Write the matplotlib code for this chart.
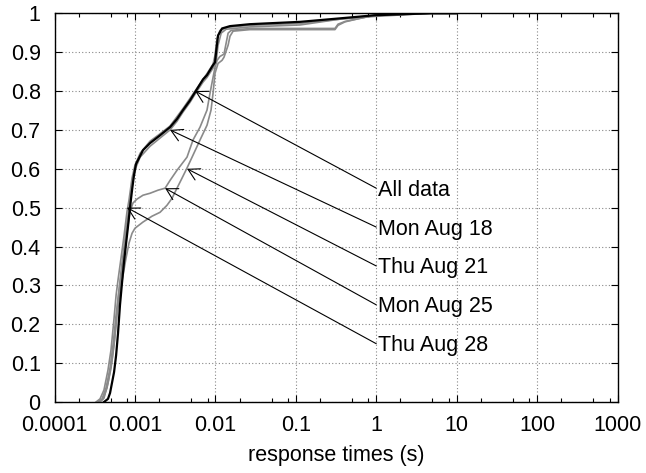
import numpy as np
import matplotlib
matplotlib.use("Agg")
import matplotlib.pyplot as plt
from matplotlib.ticker import LogLocator, FixedLocator, FixedFormatter, NullFormatter
from matplotlib.transforms import ScaledTranslation

plt.rcParams['font.family'] = ['Liberation Sans', 'DejaVu Sans']

# response time CDFs (x in seconds, y = fraction)
all_x = [0.000412, 0.000462, 0.00049, 0.00055, 0.000583, 0.000616, 0.000652, 0.00069, 0.000731, 0.000774,
         0.00082, 0.000868, 0.00092, 0.000973, 0.00103, 0.00126, 0.00154, 0.00205, 0.00273, 0.00333,
         0.00396, 0.00484, 0.00559, 0.00702, 0.00787, 0.0093, 0.0099, 0.0102, 0.0108, 0.0121,
         0.0152, 0.0269, 0.113, 0.355, 0.966, 4.67, 10]
all_y = [0, 0.008, 0.023, 0.077, 0.12, 0.177, 0.25, 0.306, 0.36, 0.406,
         0.452, 0.50, 0.545, 0.584, 0.612, 0.648, 0.666, 0.686, 0.707, 0.728,
         0.751, 0.776, 0.797, 0.83, 0.841, 0.866, 0.874, 0.90, 0.943, 0.961,
         0.967, 0.972, 0.978, 0.987, 0.995, 1.0, 1.0]

aug18_x = [0.000368, 0.000412, 0.000462, 0.000519, 0.000565, 0.000616, 0.000671, 0.000731, 0.000797, 0.000868,
           0.000946, 0.00103, 0.00116, 0.00154, 0.00205, 0.00273, 0.00333, 0.00396, 0.00484, 0.00559,
           0.00702, 0.00787, 0.00935, 0.0102, 0.0108, 0.0118, 0.0136, 0.0269, 0.113, 0.355,
           0.966, 4.67, 10]
aug18_y = [0, 0.01, 0.049, 0.108, 0.172, 0.262, 0.334, 0.398, 0.463, 0.519,
           0.571, 0.604, 0.63, 0.658, 0.679, 0.70, 0.722, 0.746, 0.771, 0.792,
           0.823, 0.835, 0.859, 0.874, 0.918, 0.949, 0.959, 0.965, 0.97, 0.985,
           0.992, 1.0, 1.0]

aug21_x = [0.000358, 0.000401, 0.000449, 0.000504, 0.00055, 0.000598, 0.000652, 0.000711, 0.000774, 0.000844,
           0.00092, 0.001, 0.00126, 0.00163, 0.00205, 0.0025, 0.00289, 0.00333, 0.00385, 0.00444,
           0.00527, 0.00644, 0.00787, 0.00883, 0.00935, 0.0099, 0.0108, 0.0121, 0.0128, 0.0144,
           0.0152, 0.0166, 0.0269, 0.307, 0.335, 0.409, 0.628, 0.966, 4.67, 10]
aug21_y = [0, 0.008, 0.036, 0.087, 0.147, 0.224, 0.283, 0.326, 0.37, 0.409,
           0.434, 0.447, 0.463, 0.478, 0.488, 0.506, 0.524, 0.55, 0.576, 0.602,
           0.635, 0.674, 0.712, 0.751, 0.794, 0.846, 0.871, 0.879, 0.887, 0.918,
           0.941, 0.954, 0.958, 0.958, 0.969, 0.978, 0.987, 0.995, 1.0, 1.0]

aug25_x = [0.000348, 0.00039, 0.000437, 0.00049, 0.000534, 0.000583, 0.000634, 0.00069, 0.000752, 0.00082,
           0.000868, 0.000946, 0.00106, 0.00126, 0.00154, 0.00194, 0.00237, 0.00273, 0.00333, 0.00444,
           0.00527, 0.00644, 0.00787, 0.00857, 0.00935, 0.0099, 0.0105, 0.0114, 0.0128, 0.0136,
           0.0144, 0.0157, 0.0269, 0.307, 0.335, 0.409, 0.628, 0.966, 4.67, 10]
aug25_y = [0, 0.008, 0.036, 0.087, 0.147, 0.224, 0.288, 0.344, 0.404, 0.455,
           0.491, 0.512, 0.522, 0.532, 0.537, 0.545, 0.55, 0.57, 0.596, 0.63,
           0.674, 0.707, 0.751, 0.794, 0.835, 0.861, 0.879, 0.889, 0.895, 0.923,
           0.949, 0.956, 0.961, 0.961, 0.972, 0.979, 0.987, 0.995, 1.0, 1.0]

aug28_x = [0.000328, 0.000368, 0.000412, 0.000462, 0.000504, 0.00055, 0.000583, 0.000616, 0.000671, 0.000731,
           0.000797, 0.000844, 0.00092, 0.001, 0.00116, 0.00154, 0.00205, 0.00273, 0.00396, 0.00559,
           0.00787, 0.00935, 0.0099, 0.0105, 0.0114, 0.0144, 0.0269, 0.113, 0.355, 0.966, 4.67, 10]
aug28_y = [0, 0.008, 0.031, 0.082, 0.134, 0.216, 0.275, 0.314, 0.37, 0.427,
           0.49, 0.52, 0.576, 0.609, 0.64, 0.671, 0.69, 0.71, 0.755, 0.80,
           0.845, 0.869, 0.892, 0.936, 0.956, 0.964, 0.969, 0.974, 0.985, 0.995, 1.0, 1.0]

# labels and where their arrows point
labels = ['All data', 'Mon Aug 18', 'Thu Aug 21', 'Mon Aug 25', 'Thu Aug 28']
tip_x = [0.0056, 0.00273, 0.00444, 0.00237, 0.000797]
tip_y = [0.80, 0.70, 0.60, 0.55, 0.50]
label_x = 1.0
label_y = [0.55, 0.45, 0.35, 0.25, 0.15]

x_ticks = [1e-4, 1e-3, 1e-2, 1e-1, 1, 10, 100, 1000]
x_tick_labels = ['0.0001', '0.001', '0.01', '0.1', '1', '10', '100', '1000']
y_ticks = np.round(np.arange(0, 1.01, 0.1), 1)
y_tick_labels = ['0', '0.1', '0.2', '0.3', '0.4', '0.5', '0.6', '0.7', '0.8', '0.9', '1']

fig = plt.figure(figsize=(6.46, 4.73), dpi=100)
ax = fig.add_axes([0.0844, 0.1501, 0.8715, 0.8218])

gray = '#8a8a8a'
for xs, ys in [(aug18_x, aug18_y), (aug21_x, aug21_y), (aug25_x, aug25_y), (aug28_x, aug28_y)]:
    ax.plot(xs, ys, color=gray, lw=1.2, solid_joinstyle='round')
ax.plot(all_x, all_y, color='black', lw=1.6, solid_joinstyle='round')

ax.set_xscale('log')
ax.set_xlim(1e-4, 1000)
ax.set_ylim(0, 1)

ax.xaxis.set_major_locator(FixedLocator(x_ticks))
ax.xaxis.set_major_formatter(FixedFormatter(x_tick_labels))
ax.xaxis.set_minor_locator(LogLocator(base=10, subs=(2, 5, 8)))
ax.xaxis.set_minor_formatter(NullFormatter())
ax.set_yticks(y_ticks)
ax.set_yticklabels(y_tick_labels)

ax.tick_params(which='both', direction='in', top=True, right=True, labelsize=15.5, width=0.8)
ax.tick_params(which='major', length=5)
ax.tick_params(which='minor', length=3)
ax.tick_params(axis='x', pad=9)
ax.tick_params(axis='y', pad=10)

ax.grid(True, which='major', color='#888888', linestyle=(0, (1, 2)), lw=0.8)
for sp in ax.spines.values():
    sp.set_linewidth(1.0)

ax.set_xlabel('response times (s)', fontsize=15.5, labelpad=7)

shift = ScaledTranslation(2 / 100, -7.5 / 100, fig.dpi_scale_trans)
for lab, tx, ty, ly in zip(labels, tip_x, tip_y, label_y):
    ax.annotate('', xy=(tx, ty), xytext=(label_x, ly),
                arrowprops=dict(arrowstyle='->,head_length=0.8,head_width=0.45', mutation_scale=10,
                                color='black', lw=0.8, shrinkA=0, shrinkB=0))
    ax.text(label_x, ly, lab, fontsize=15.5, ha='left', va='baseline',
            transform=ax.transData + shift)

fig.savefig('out.png', dpi=100)
